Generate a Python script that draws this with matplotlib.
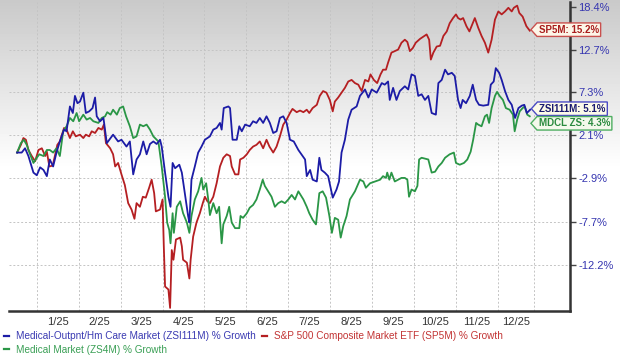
import matplotlib
matplotlib.use("Agg")
import matplotlib.pyplot as plt
from matplotlib.lines import Line2D
from matplotlib.path import Path
import numpy as np

plt.rcParams['font.family'] = ['Liberation Sans', 'DejaVu Sans']

# x positions are months since 1 Jan 2025 (chart gives each month the same width)
t_blue = [-0.47, -0.36, -0.28, -0.20, -0.08, 0.00, 0.08, 0.16, 0.24, 0.31,
          0.39, 0.47, 0.55, 0.65, 0.71, 0.79, 0.86, 0.91, 0.97, 1.03,
          1.11, 1.17, 1.25, 1.33, 1.39, 1.43, 1.51, 1.59, 1.67, 1.82,
          1.94, 2.02, 2.14, 2.22, 2.30, 2.38, 2.46, 2.54, 2.62, 2.70,
          2.78, 2.86, 2.94, 2.98, 3.06, 3.14, 3.19, 3.24, 3.30, 3.40,
          3.46, 3.53, 3.61, 3.64, 3.69, 3.77, 3.85, 3.93, 4.01, 4.13,
          4.21, 4.29, 4.37, 4.41, 4.46, 4.57, 4.61, 4.67, 4.77, 4.83,
          4.89, 4.97, 5.08, 5.16, 5.24, 5.32, 5.40, 5.48, 5.56, 5.64,
          5.72, 5.80, 5.88, 5.96, 6.04, 6.13, 6.24, 6.34, 6.40, 6.44,
          6.52, 6.58, 6.68, 6.74, 6.79, 6.87, 6.95, 7.06, 7.15, 7.21,
          7.27, 7.35, 7.43, 7.51, 7.63, 7.71, 7.83, 7.91, 7.99, 8.11,
          8.23, 8.30, 8.38, 8.42, 8.50, 8.58, 8.66, 8.78, 8.86, 8.94,
          9.02, 9.10, 9.18, 9.26, 9.34, 9.42, 9.52, 9.58, 9.66, 9.74,
          9.81, 9.90, 9.97, 10.05, 10.11, 10.16, 10.24, 10.33, 10.40, 10.48,
          10.55, 10.65, 10.77, 10.83, 10.90, 10.95, 11.03, 11.09, 11.17, 11.25,
          11.33, 11.41, 11.49, 11.57, 11.63, 11.69, 11.77]
v_blue = [0.0, 0.0, 0.5, -0.4, -2.3, -2.6, -1.7, -2.0, -2.7, -0.8,
          -1.6, 0.0, 1.3, 2.7, 2.5, 5.5, 4.7, 6.8, 5.9, 6.1,
          7.2, 4.7, 4.9, 5.3, 6.6, 4.3, 3.7, 4.1, 1.1, 2.1,
          1.3, 1.5, 0.7, 1.3, -2.5, -0.8, -0.2, 1.3, -0.2, 1.0,
          1.3, 1.0, 1.5, 0.7, -2.3, -5.0, -6.1, -1.2, -1.8, -1.4,
          -2.3, -4.6, -7.1, -7.8, -3.1, -1.6, 0.0, 0.7, 1.5, 1.9,
          2.7, 2.9, 3.5, 2.7, 5.3, 5.5, 5.3, 1.5, 1.5, 3.1,
          2.5, 3.3, 3.1, 3.7, 3.5, 4.1, 3.5, 4.3, 3.5, 2.3,
          2.5, 4.1, 4.3, 3.5, 1.5, 1.3, 0.3, -0.4, -0.8, -2.7,
          -2.0, -3.1, -3.3, -0.6, -2.0, -2.3, -2.7, -5.1, -4.2, -3.3,
          0.0, 1.5, 3.9, 5.1, 5.5, 6.8, 7.6, 6.6, 7.6, 7.2,
          8.4, 8.2, 8.6, 6.3, 7.8, 6.3, 7.4, 8.0, 7.6, 9.5,
          9.3, 6.8, 7.0, 6.3, 6.8, 4.7, 4.5, 8.4, 8.8, 10.1,
          9.5, 9.7, 9.3, 6.3, 5.3, 6.3, 5.9, 6.8, 8.2, 6.3,
          5.7, 5.6, 5.7, 8.2, 8.6, 10.3, 9.7, 8.8, 7.4, 6.3,
          5.7, 4.1, 5.3, 5.6, 5.7, 4.7, 5.1]

t_red = [-0.47, -0.38, -0.32, -0.26, -0.20, -0.12, -0.04, 0.04, 0.12, 0.20,
         0.24, 0.30, 0.38, 0.43, 0.49, 0.55, 0.65, 0.71, 0.79, 0.86,
         0.93, 1.03, 1.11, 1.17, 1.25, 1.31, 1.39, 1.47, 1.55, 1.60,
         1.65, 1.75, 1.82, 1.87, 1.94, 2.02, 2.10, 2.18, 2.26, 2.33,
         2.38, 2.46, 2.53, 2.60, 2.68, 2.74, 2.80, 2.84, 2.94, 3.00,
         3.03, 3.06, 3.14, 3.18, 3.22, 3.26, 3.32, 3.42, 3.46, 3.49,
         3.58, 3.64, 3.67, 3.73, 3.81, 3.89, 3.96, 4.01, 4.07, 4.13,
         4.21, 4.29, 4.37, 4.45, 4.53, 4.61, 4.65, 4.73, 4.81, 4.85,
         4.93, 5.01, 5.08, 5.16, 5.24, 5.32, 5.40, 5.48, 5.55, 5.64,
         5.72, 5.80, 5.88, 5.96, 6.04, 6.10, 6.20, 6.28, 6.36, 6.44,
         6.50, 6.58, 6.68, 6.75, 6.83, 6.91, 6.99, 7.06, 7.11, 7.19,
         7.27, 7.35, 7.43, 7.51, 7.59, 7.67, 7.75, 7.83, 7.91, 7.96,
         8.04, 8.12, 8.20, 8.26, 8.33, 8.38, 8.46, 8.54, 8.62, 8.70,
         8.78, 8.84, 8.90, 8.97, 9.04, 9.14, 9.22, 9.30, 9.36, 9.40,
         9.46, 9.54, 9.62, 9.70, 9.78, 9.85, 9.93, 10.00, 10.05, 10.11,
         10.17, 10.25, 10.32, 10.40, 10.45, 10.53, 10.61, 10.69, 10.77, 10.85,
         10.93, 11.01, 11.09, 11.17, 11.25, 11.33, 11.38, 11.46, 11.51, 11.59,
         11.68, 11.76]
v_red = [0.0, 0.9, 1.7, 1.5, 0.3, -0.4, -1.0, 0.3, 0.5, -0.4,
         0.1, -1.6, -1.5, -0.4, 0.9, 1.3, 2.9, 2.7, 1.7, 2.5,
         1.9, 2.1, 1.7, 2.1, 1.9, 2.5, 2.3, 2.9, 2.7, 3.3,
         1.1, 0.5, -0.2, -1.6, -1.2, -2.5, -3.7, -5.7, -6.4, -7.4,
         -5.7, -6.1, -5.0, -5.1, -4.0, -3.1, -4.6, -6.6, -6.4, -5.3,
         -10.3, -14.4, -14.7, -16.5, -10.7, -11.7, -9.6, -9.4, -10.3, -11.7,
         -12.0, -13.6, -11.7, -9.3, -7.8, -6.8, -5.7, -5.0, -5.5, -5.7,
         -5.0, -3.5, -1.6, -0.6, -0.2, -0.4, -1.6, -2.5, -2.5, -0.8,
         -0.6, -0.2, 0.3, 0.7, 0.9, 1.3, 0.5, 1.5, 0.7, 0.0,
         0.7, 1.9, 3.3, 3.9, 4.7, 5.2, 4.8, 5.0, 4.8, 5.1,
         4.7, 5.3, 5.7, 6.8, 7.4, 7.2, 6.3, 4.9, 6.1, 6.6,
         7.2, 7.8, 8.6, 8.8, 8.4, 8.2, 7.4, 8.8, 8.6, 9.5,
         8.8, 8.4, 9.5, 10.1, 10.1, 11.0, 12.3, 12.5, 12.7, 13.6,
         14.0, 13.7, 12.5, 12.9, 13.6, 14.1, 14.4, 14.7, 14.0, 11.4,
         12.3, 13.1, 13.2, 14.5, 15.1, 16.2, 16.9, 17.4, 16.9, 16.7,
         16.9, 15.8, 15.1, 16.2, 16.9, 15.6, 14.5, 13.6, 12.3, 14.0,
         16.7, 17.8, 17.4, 17.8, 18.3, 17.8, 18.3, 18.6, 17.6, 17.1,
         15.8, 15.2]

t_green = [-0.47, -0.38, -0.31, -0.24, -0.16, -0.08, 0.00, 0.06, 0.16, 0.24,
           0.31, 0.39, 0.47, 0.55, 0.63, 0.71, 0.79, 0.87, 0.95, 1.01,
           1.11, 1.19, 1.27, 1.35, 1.47, 1.55, 1.63, 1.68, 1.76, 1.82,
           1.91, 1.98, 2.06, 2.13, 2.22, 2.30, 2.38, 2.46, 2.54, 2.62,
           2.70, 2.78, 2.90, 2.98, 3.06, 3.11, 3.16, 3.19, 3.24, 3.27,
           3.34, 3.42, 3.49, 3.58, 3.64, 3.69, 3.77, 3.85, 3.93, 3.97,
           4.04, 4.09, 4.13, 4.21, 4.29, 4.35, 4.41, 4.45, 4.53, 4.59,
           4.65, 4.73, 4.83, 4.86, 4.92, 5.01, 5.08, 5.16, 5.24, 5.32,
           5.39, 5.44, 5.52, 5.60, 5.68, 5.76, 5.84, 5.92, 6.00, 6.08,
           6.16, 6.24, 6.32, 6.36, 6.44, 6.50, 6.58, 6.66, 6.74, 6.82,
           6.90, 6.98, 7.04, 7.11, 7.19, 7.25, 7.31, 7.39, 7.47, 7.59,
           7.71, 7.79, 7.85, 7.95, 8.07, 8.19, 8.26, 8.33, 8.36, 8.41,
           8.46, 8.54, 8.62, 8.70, 8.78, 8.84, 8.88, 8.94, 9.02, 9.08,
           9.12, 9.18, 9.26, 9.34, 9.42, 9.50, 9.58, 9.66, 9.74, 9.85,
           9.95, 10.00, 10.09, 10.19, 10.27, 10.35, 10.41, 10.48, 10.53, 10.61,
           10.69, 10.74, 10.79, 10.85, 10.93, 10.98, 11.04, 11.12, 11.19, 11.28,
           11.36, 11.40, 11.46, 11.52, 11.59, 11.64, 11.70, 11.76]
v_green = [0.0, 1.1, 1.5, 0.9, -0.2, -1.2, -0.6, -0.2, -0.4, 0.3,
           0.3, 0.0, 0.5, -0.4, 2.5, 3.1, 4.1, 3.7, 4.7, 3.7,
           4.5, 3.9, 4.1, 3.7, 3.5, 4.1, 4.3, 4.8, 4.5, 5.1,
           4.5, 5.3, 5.5, 4.3, 3.1, 1.7, 1.9, 3.3, 3.1, 3.3,
           2.7, 1.9, 1.3, -1.6, -5.0, -7.8, -8.6, -10.0, -6.8, -8.9,
           -6.1, -5.5, -6.8, -7.8, -8.9, -7.1, -5.3, -4.4, -2.9, -4.2,
           -3.5, -5.3, -7.0, -5.7, -6.8, -6.1, -10.0, -8.0, -7.1, -6.1,
           -7.8, -8.4, -8.4, -7.1, -7.3, -6.8, -6.2, -5.9, -5.3, -4.2,
           -3.1, -3.8, -4.4, -5.0, -6.1, -5.7, -5.5, -5.7, -5.3, -4.8,
           -5.3, -4.4, -5.0, -5.3, -6.1, -6.8, -7.5, -8.0, -4.6, -4.4,
           -5.1, -7.1, -8.9, -7.3, -7.5, -9.4, -8.2, -7.1, -5.3, -4.4,
           -3.1, -3.3, -4.0, -3.5, -3.3, -3.1, -2.7, -2.9, -2.3, -3.1,
           -2.3, -3.3, -3.1, -2.9, -2.9, -3.1, -5.0, -4.2, -4.4, -3.8,
           -0.8, -0.6, -0.7, -0.8, -2.3, -2.2, -1.6, -1.2, -0.6, -0.2,
           0.0, -1.2, -1.4, -1.2, -0.8, 0.1, 1.5, 3.5, 3.3, 3.1,
           4.3, 4.5, 3.5, 5.3, 6.8, 7.3, 6.8, 6.3, 5.3, 5.1,
           4.5, 2.5, 3.9, 4.9, 5.3, 5.5, 4.5, 4.3]

month_labels = ['1/25', '2/25', '3/25', '4/25', '5/25', '6/25',
                '7/25', '8/25', '9/25', '10/25', '11/25', '12/25']
month_edges = [0, 1, 2, 3, 4, 5, 6, 7, 8, 9, 10, 11, 11.86]
y_ticks = [18.4, 12.7, 7.3, 2.1, -2.9, -7.7, -12.2]

series = [
    ('Medical-Outpnt/Hm Care Market (ZSI111M) % Growth', t_blue, v_blue,
     '#1c1ca6', '#3a3ab2', 'ZSI111M: 5.1%', '#1a1a70', '#4b4bc4', '#fdfbe9', 1),
    ('Medical Market (ZS4M) % Growth', t_green, v_green,
     '#2a9646', '#3a9f55', 'MDCL ZS: 4.3%', '#2a8a3e', '#4fae62', '#f4f9ec', -7),
    ('S&P 500 Composite Market ETF (SP5M) % Growth', t_red, v_red,
     '#b51f22', '#c23434', 'SP5M: 15.2%', '#a81c1c', '#c9504e', '#fdf6e8', 1),
]


def lg(p):
    # chart uses a log scale of (1 + growth)
    return np.log1p(np.asarray(p, dtype=float) / 100.0)


def tag_box(x0, y0, width, height, mutation_size):
    pad = 0.18 * mutation_size
    x0, y0 = x0 - pad, y0 - pad
    w, h = width + 2 * pad, height + 2 * pad
    tip = 0.45 * h
    verts = [(x0 - tip, y0 + h / 2), (x0, y0), (x0 + w, y0),
             (x0 + w, y0 + h), (x0, y0 + h), (x0 - tip, y0 + h / 2)]
    return Path(verts, closed=True)


fig = plt.figure(figsize=(6.2, 3.59), dpi=100, facecolor='white')

# grey-to-white gradient at the top of the figure
bg = fig.add_axes([0, 0, 1, 1], zorder=-10)
rows = np.linspace(0, 1, 359)
shade = np.clip(0.79 + 0.21 * rows / 0.47, 0, 1)[:, None]
bg.imshow(shade, cmap='gray', vmin=0, vmax=1, aspect='auto', extent=[0, 1, 0, 1])
bg.axis('off')

ax = fig.add_axes([9 / 620, 48 / 359, 561 / 620, 309 / 359])
ax.patch.set_alpha(0)

for label, t, v, lc, _, _, _, _, _, _ in series[::-1]:
    ax.plot(t, lg(v), color=lc, lw=1.3, solid_joinstyle='round')

ax.set_xlim(-0.663, 12.72)
ax.set_ylim(lg(-16.8), lg(19.1))

# grid: month boundaries vertical, tick levels horizontal (top one not drawn)
for edge in month_edges:
    ax.axvline(edge, color='#c4c4c4', lw=0.7, ls=(0, (2, 2)), zorder=0)
for yv in y_ticks[1:]:
    ax.axhline(lg(yv), color='#c4c4c4', lw=0.7, ls=(0, (2, 2)), zorder=0)

label_pos = [(a + b) / 2 for a, b in zip(month_edges[:-1], month_edges[1:])]
ax.set_xticks(label_pos)
ax.set_xticklabels(month_labels, fontsize=8, color='#333333')
ax.tick_params(axis='x', length=0, pad=4)

ax.yaxis.tick_right()
ax.set_yticks(lg(y_ticks))
ax.set_yticklabels([f'{v:.1f}%' for v in y_ticks], fontsize=8, color='#3535b0')
ax.tick_params(axis='y', length=4, width=1, color='#444444', pad=2)

for side in ['left', 'top']:
    ax.spines[side].set_visible(False)
for side in ['right', 'bottom']:
    ax.spines[side].set_color('#333333')
    ax.spines[side].set_linewidth(1.8)

# end-of-line tags
for label, t, v, lc, _, tag, tc, ec, fc, dy in series:
    ax.annotate(tag, xy=(t[-1], lg(v[-1])), xytext=(9, dy),
                textcoords='offset pixels', ha='left', va='center',
                fontsize=7, fontweight='bold', color=tc, zorder=6,
                annotation_clip=False,
                bbox=dict(boxstyle=tag_box, fc=fc, ec=ec, lw=1))

handles = [Line2D([], [], color=s[3], lw=1.6) for s in series]
fig.legend(handles, [s[0] for s in series], ncol=2, loc='upper left',
           bbox_to_anchor=(0.006, 0.077), frameon=False, fontsize=7.2,
           labelcolor=[s[4] for s in series], handlelength=0.5,
           handletextpad=0.7, columnspacing=0.7, labelspacing=0.35,
           borderpad=0, borderaxespad=0)

fig.savefig('out.png', dpi=100)
